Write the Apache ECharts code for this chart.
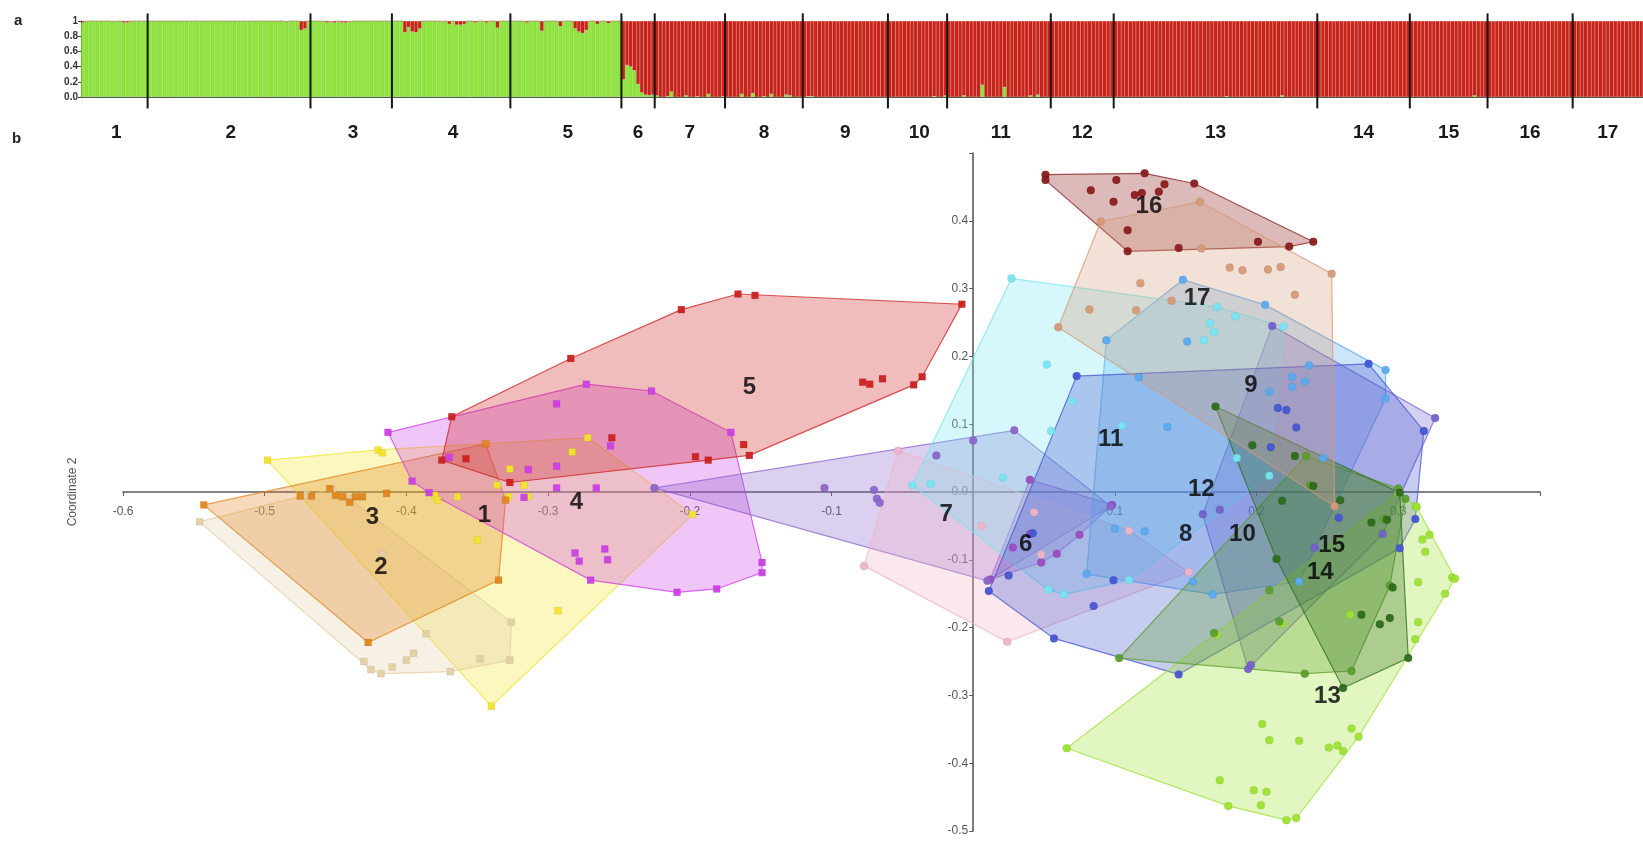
<!DOCTYPE html>
<html>
<head>
<meta charset="utf-8">
<title>STRUCTURE bar plot and PCoA</title>
<script src="https://cdn.jsdelivr.net/npm/echarts@6/dist/echarts.min.js"></script>
<style>
  html, body { margin: 0; padding: 0; background: #fff; }
  #chart { width: 1643px; height: 841px; }
</style>
</head>
<body>
<div id="chart"></div>
<script>
// ---- panel a: share of the green cluster for each individual, one array per population
const green1 = [0.98, 1, 1, 1, 1, 1, 1, 1, 0.99, 1, 1, 0.98, 0.98, 1, 1, 1, 1, 1];
const green2 = [1, 1, 1, 1, 1, 1, 1, 1, 1, 1, 1, 1, 1, 1, 1, 1, 1, 1, 1, 1, 1, 1, 1, 1, 1, 1, 1, 1, 1, 1, 1, 1, 1, 1, 1, 1, 1, 0.99, 1, 1, 1, 0.88, 0.9, 1];
const green3 = [1, 1, 1, 1, 0.98, 0.99, 0.98, 1, 0.98, 0.98, 0.99, 1, 1, 1, 1, 1, 1, 1, 1, 1, 1, 1];
const green4 = [1, 1, 1, 0.85, 0.92, 0.86, 0.85, 0.9, 1, 1, 1, 1, 1, 0.99, 1, 0.96, 1, 0.95, 0.95, 0.96, 1, 1, 0.98, 1, 1, 0.98, 1, 1, 0.91, 1, 1, 1];
const green5 = [1, 1, 1, 1, 0.98, 1, 1, 1, 0.87, 1, 1, 1, 1, 0.93, 1, 1, 1, 0.9, 0.86, 0.84, 0.88, 1, 1, 0.96, 1, 1, 0.97, 1, 1, 1];
const green6 = [0.23, 0.42, 0.4, 0.35, 0.17, 0.06, 0.03, 0.02, 0.03];
const green7 = [0.02, 0, 0, 0.01, 0.07, 0, 0, 0, 0.02, 0, 0, 0.01, 0, 0, 0.04, 0, 0, 0, 0.01];
const green8 = [0, 0, 0, 0, 0.04, 0, 0, 0.05, 0, 0, 0.01, 0, 0.04, 0, 0, 0, 0.03, 0.02, 0, 0, 0];
const green9 = [0, 0.01, 0.01, 0, 0, 0, 0, 0, 0, 0, 0, 0, 0, 0, 0, 0, 0, 0, 0, 0, 0, 0, 0];
const green10 = [0, 0, 0, 0, 0, 0, 0, 0, 0, 0, 0, 0, 0.01, 0, 0, 0.02];
const green11 = [0, 0, 0, 0, 0.02, 0, 0, 0, 0, 0.16, 0, 0, 0, 0, 0, 0.13, 0, 0, 0, 0, 0, 0, 0.02, 0, 0.03, 0, 0, 0];
const green12 = [0, 0, 0, 0, 0, 0, 0, 0, 0, 0, 0, 0, 0, 0, 0, 0, 0];
const green13 = [0, 0, 0, 0, 0, 0, 0, 0, 0, 0, 0, 0, 0, 0, 0, 0, 0, 0, 0, 0, 0, 0, 0, 0, 0, 0, 0, 0, 0, 0, 0.01, 0, 0, 0, 0, 0, 0, 0, 0, 0, 0, 0, 0, 0, 0, 0.02, 0, 0, 0, 0, 0, 0, 0, 0, 0];
const green14 = [0, 0, 0, 0, 0, 0, 0, 0, 0, 0, 0, 0, 0, 0, 0, 0, 0, 0, 0, 0, 0, 0, 0, 0, 0];
const green15 = [0, 0, 0, 0, 0, 0, 0, 0, 0, 0, 0, 0, 0, 0, 0, 0, 0, 0.02, 0, 0, 0];
const green16 = [0, 0, 0, 0, 0, 0, 0, 0, 0, 0, 0, 0, 0, 0, 0, 0, 0, 0, 0, 0, 0, 0, 0];
const green17 = [0, 0, 0, 0, 0, 0, 0, 0, 0, 0, 0, 0, 0, 0, 0, 0, 0, 0, 0];

const popNames = ['1', '2', '3', '4', '5', '6', '7', '8', '9', '10', '11', '12', '13', '14', '15', '16', '17'];

// ---- panel b: coordinate 1 / coordinate 2 of every individual, one array per population
const p1 = [[-0.498, 0.047], [-0.420, 0.062], [-0.417, 0.058], [-0.380, -0.005], [-0.378, -0.012], [-0.364, -0.007], [-0.350, -0.071], [-0.336, 0.010], [-0.327, 0.034], [-0.317, 0.010], [-0.328, -0.007], [-0.314, -0.007], [-0.293, -0.175], [-0.283, 0.059], [-0.272, 0.080], [-0.198, -0.033], [-0.340, -0.316]];
const p2 = [[-0.546, -0.044], [-0.470, -0.004], [-0.452, 0.004], [-0.440, -0.010], [-0.417, -0.091], [-0.430, -0.250], [-0.425, -0.262], [-0.418, -0.268], [-0.410, -0.258], [-0.400, -0.248], [-0.395, -0.238], [-0.386, -0.209], [-0.369, -0.265], [-0.348, -0.246], [-0.327, -0.248], [-0.326, -0.192]];
const p3 = [[-0.543, -0.019], [-0.475, -0.006], [-0.467, -0.006], [-0.454, 0.005], [-0.450, -0.005], [-0.445, -0.007], [-0.440, -0.015], [-0.436, -0.007], [-0.431, -0.007], [-0.414, -0.002], [-0.427, -0.222], [-0.335, -0.130], [-0.344, 0.071], [-0.330, -0.012]];
const p4 = [[-0.413, 0.088], [-0.396, 0.016], [-0.384, -0.001], [-0.370, 0.051], [-0.314, 0.033], [-0.317, -0.008], [-0.294, 0.038], [-0.294, 0.006], [-0.294, 0.130], [-0.273, 0.159], [-0.266, 0.006], [-0.256, 0.068], [-0.227, 0.149], [-0.171, 0.088], [-0.149, -0.104], [-0.149, -0.119], [-0.181, -0.143], [-0.209, -0.148], [-0.270, -0.130], [-0.281, -0.090], [-0.278, -0.102], [-0.260, -0.084], [-0.258, -0.100]];
const p5 = [[-0.166, 0.292], [-0.154, 0.290], [-0.206, 0.269], [-0.284, 0.197], [-0.368, 0.111], [-0.375, 0.047], [-0.358, 0.049], [-0.327, 0.014], [-0.255, 0.080], [-0.196, 0.052], [-0.187, 0.047], [-0.162, 0.070], [-0.158, 0.054], [-0.078, 0.162], [-0.073, 0.159], [-0.064, 0.167], [-0.042, 0.158], [-0.036, 0.170], [-0.008, 0.277]];
const p6 = [[0.040, 0.018], [0.098, -0.019], [0.075, -0.063], [0.059, -0.091], [0.048, -0.104], [0.012, -0.129], [0.028, -0.082], [0.040, -0.062]];
const p7 = [[-0.225, 0.006], [-0.105, 0.006], [-0.070, 0.003], [-0.068, -0.010], [-0.066, -0.016], [-0.026, 0.054], [0.000, 0.076], [0.029, 0.091], [0.097, -0.021], [0.010, -0.131]];
const p8 = [[-0.077, -0.109], [-0.053, 0.061], [0.024, -0.221], [0.043, -0.030], [0.048, -0.092], [0.110, -0.057], [0.152, -0.118], [0.006, -0.050]];
const p9 = [[0.148, 0.313], [0.206, 0.276], [0.094, 0.224], [0.117, 0.169], [0.151, 0.222], [0.225, 0.170], [0.234, 0.163], [0.225, 0.155], [0.209, 0.148], [0.237, 0.187], [0.291, 0.180], [0.291, 0.138], [0.247, 0.050], [0.169, -0.151], [0.155, -0.132], [0.230, -0.132], [0.100, -0.054], [0.121, -0.058], [0.080, -0.121], [0.137, 0.096]];
const p10 = [[0.211, 0.245], [0.326, 0.109], [0.162, -0.033], [0.174, -0.026], [0.241, -0.082], [0.289, -0.062], [0.194, -0.261], [0.300, 0.002], [0.196, -0.255]];
const p11 = [[0.027, 0.315], [-0.043, 0.010], [-0.030, 0.012], [0.021, 0.021], [0.052, 0.188], [0.070, 0.134], [0.055, 0.090], [0.053, -0.144], [0.064, -0.151], [0.110, -0.130], [0.186, 0.050], [0.209, 0.024], [0.172, 0.273], [0.185, 0.259], [0.167, 0.249], [0.170, 0.236], [0.163, 0.224], [0.219, 0.244], [0.105, 0.098]];
const p12 = [[0.073, 0.171], [0.279, 0.189], [0.215, 0.124], [0.221, 0.121], [0.228, 0.095], [0.210, 0.066], [0.099, -0.130], [0.085, -0.168], [0.011, -0.146], [0.025, -0.123], [0.042, -0.061], [0.258, -0.038], [0.312, -0.040], [0.301, -0.083], [0.057, -0.216], [0.145, -0.269], [0.318, 0.090]];
const p13 = [[0.066, -0.378], [0.221, -0.484], [0.228, -0.481], [0.338, -0.126], [0.312, -0.021], [0.300, -0.001], [0.204, -0.342], [0.209, -0.366], [0.230, -0.367], [0.251, -0.377], [0.257, -0.374], [0.261, -0.382], [0.267, -0.349], [0.272, -0.361], [0.174, -0.425], [0.198, -0.440], [0.207, -0.442], [0.180, -0.463], [0.203, -0.462], [0.314, -0.133], [0.333, -0.150], [0.314, -0.192], [0.312, -0.217], [0.317, -0.070], [0.322, -0.063], [0.319, -0.088], [0.340, -0.128], [0.266, -0.181], [0.218, -0.194], [0.172, -0.211], [0.313, -0.022]];
const p14 = [[0.103, -0.245], [0.170, -0.208], [0.216, -0.191], [0.234, -0.268], [0.267, -0.264], [0.235, 0.053], [0.238, 0.010], [0.290, -0.040], [0.294, -0.138], [0.209, -0.145], [0.300, 0.005], [0.305, -0.010]];
const p15 = [[0.171, 0.126], [0.292, -0.041], [0.307, -0.245], [0.261, -0.289], [0.214, -0.099], [0.197, 0.069], [0.227, 0.053], [0.240, 0.009], [0.218, -0.013], [0.259, -0.012], [0.281, -0.045], [0.274, -0.181], [0.287, -0.195], [0.294, -0.186], [0.296, -0.141], [0.301, -0.001]];
const p16 = [[0.051, 0.468], [0.051, 0.460], [0.083, 0.445], [0.101, 0.460], [0.121, 0.470], [0.135, 0.454], [0.131, 0.443], [0.114, 0.438], [0.119, 0.441], [0.099, 0.428], [0.156, 0.455], [0.109, 0.386], [0.109, 0.355], [0.145, 0.360], [0.201, 0.369], [0.223, 0.362], [0.240, 0.369]];
const p17 = [[0.090, 0.399], [0.160, 0.428], [0.161, 0.359], [0.253, 0.322], [0.181, 0.331], [0.190, 0.327], [0.208, 0.328], [0.217, 0.332], [0.227, 0.291], [0.118, 0.308], [0.082, 0.269], [0.115, 0.268], [0.140, 0.282], [0.060, 0.243], [0.255, -0.021]];

// where the population numbers sit in panel b
const pcoaLabelPos = [[-0.345, -0.034], [-0.418, -0.111], [-0.424, -0.037], [-0.280, -0.016], [-0.158, 0.154],
  [0.037, -0.077], [-0.019, -0.033], [0.150, -0.063], [0.196, 0.157], [0.190, -0.063],
  [0.097, 0.078], [0.161, 0.004], [0.250, -0.302], [0.245, -0.118], [0.253, -0.078],
  [0.124, 0.421], [0.158, 0.286]];

// ---- styles
const popColors = ['#f2e42a', '#e4cda4', '#e0861e', '#cc3ee6', '#cc2020',
  '#9a4cc2', '#8c64cc', '#f0b4c8', '#5aaaf0', '#7262cc',
  '#78e4f2', '#4656d2', '#9ee234', '#5c9e2e', '#2d6c1a',
  '#8a1c1c', '#d49a78'];
const FONT = '"Liberation Sans", Arial, sans-serif';
const NARROW = '"Liberation Sans Narrow", "Liberation Sans", Arial, sans-serif';

// PCoA frame (grid 1) — used to put both axes through the origin
const PX_LEFT = 123, PX_TOP = 153, PX_W = 1417, PX_H = 678;
const X_MIN = -0.6, X_MAX = 0.4, Y_MIN = -0.5, Y_MAX = 0.5;

function rgba(hex, a) {
  const n = parseInt(hex.slice(1), 16);
  return 'rgba(' + (n >> 16) + ',' + ((n >> 8) & 255) + ',' + (n & 255) + ',' + a + ')';
}

// convex hull (monotone chain)
function convexHull(pts) {
  const s = pts.slice().sort((a, b) => a[0] - b[0] || a[1] - b[1]);
  const cross = (o, a, b) => (a[0] - o[0]) * (b[1] - o[1]) - (a[1] - o[1]) * (b[0] - o[0]);
  const lower = [], upper = [];
  s.forEach(p => {
    while (lower.length >= 2 && cross(lower[lower.length - 2], lower[lower.length - 1], p) <= 0) lower.pop();
    lower.push(p);
  });
  for (let i = s.length - 1; i >= 0; i--) {
    const p = s[i];
    while (upper.length >= 2 && cross(upper[upper.length - 2], upper[upper.length - 1], p) <= 0) upper.pop();
    upper.push(p);
  }
  return lower.slice(0, -1).concat(upper.slice(0, -1));
}

// ---- build panel a series data
const structPops = [green1, green2, green3, green4, green5, green6, green7, green8, green9,
  green10, green11, green12, green13, green14, green15, green16, green17];
const individuals = [], greenShare = [], redShare = [], popStart = [], popCenter = {};
structPops.forEach((g, p) => {
  popStart.push(individuals.length);
  popCenter[individuals.length + Math.floor(g.length / 2)] = popNames[p];
  g.forEach((v, k) => {
    individuals.push(popNames[p] + '-' + (k + 1));
    greenShare.push(v);
    redShare.push(+(1 - v).toFixed(2));
  });
});
const separators = popStart.slice(1).map(i => [i]);

// ---- build panel b series
const pcoaPops = [p1, p2, p3, p4, p5, p6, p7, p8, p9, p10, p11, p12, p13, p14, p15, p16, p17];
const hullSeries = pcoaPops.map((pts, i) => {
  const hull = convexHull(pts);
  return {
    type: 'custom', xAxisIndex: 1, yAxisIndex: 1, z: 1, silent: true,
    data: [hull[0]],
    renderItem: function (params, api) {
      return {
        type: 'polygon',
        shape: { points: hull.map(p => api.coord(p)) },
        style: { fill: rgba(popColors[i], 0.3), stroke: rgba(popColors[i], 0.75), lineWidth: 1.2 }
      };
    }
  };
});
const pointSeries = pcoaPops.map((pts, i) => ({
  type: 'scatter', xAxisIndex: 1, yAxisIndex: 1, z: 2, silent: true,
  symbol: i < 5 ? 'rect' : 'circle',
  symbolSize: i < 5 ? 7 : 8,
  itemStyle: { color: popColors[i], opacity: 0.95, borderColor: 'rgba(0,0,0,0.12)', borderWidth: 0.5 },
  data: pts
}));

const chart = echarts.init(document.getElementById('chart'));
chart.setOption({
  animation: false,
  backgroundColor: '#fff',
  title: [
    { text: 'a', left: 9, top: 8, textStyle: { fontSize: 15, fontWeight: 'bold', color: '#222', fontFamily: FONT } },
    { text: 'b', left: 7, top: 126, textStyle: { fontSize: 15, fontWeight: 'bold', color: '#222', fontFamily: FONT } }
  ],
  graphic: [{
    type: 'text', x: 73, y: 492, rotation: Math.PI / 2, silent: true,
    style: { text: 'Coordinate 2', fill: '#555', font: '12px ' + FONT, align: 'center', verticalAlign: 'middle' }
  }],
  grid: [
    { left: 81, top: 21, width: 1562, height: 76, outerBoundsMode: 'none' },
    { left: PX_LEFT, top: PX_TOP, width: PX_W, height: PX_H, outerBoundsMode: 'none' }
  ],
  xAxis: [
    {
      type: 'category', gridIndex: 0, data: individuals,
      axisLine: { show: true, lineStyle: { color: '#555', width: 1 } },
      axisTick: { show: false },
      splitLine: { show: false },
      axisLabel: {
        interval: (index) => popCenter[index] !== undefined,
        formatter: (value, index) => popCenter[index] || '',
        margin: 26, fontSize: 19, fontWeight: 'bold', color: '#1a1a1a', fontFamily: NARROW
      }
    },
    {
      type: 'value', gridIndex: 1, min: X_MIN, max: X_MAX, interval: 0.1,
      // move the whole axis (line + labels) up to y = 0
      offset: -PX_H * (0 - Y_MIN) / (Y_MAX - Y_MIN),
      axisLine: { onZero: false, lineStyle: { color: '#5a5a5a', width: 1.6 } },
      axisTick: { show: true, length: 4, lineStyle: { color: '#5a5a5a' } },
      splitLine: { show: false },
      axisLabel: {
        formatter: (v) => (Math.abs(v) < 1e-9 || v > 0.35) ? '' : v.toFixed(1),
        fontSize: 12, color: '#555', margin: 14, fontFamily: NARROW
      }
    }
  ],
  yAxis: [
    {
      type: 'value', gridIndex: 0, min: 0, max: 1, interval: 0.2,
      axisLine: { show: true, lineStyle: { color: '#444' } },
      axisTick: { show: true, length: 3, lineStyle: { color: '#444' } },
      splitLine: { show: false },
      axisLabel: {
        formatter: (v) => v === 1 ? '1' : v.toFixed(1),
        fontSize: 10, fontWeight: 'bold', color: '#333', margin: 3, fontFamily: NARROW
      }
    },
    {
      type: 'value', gridIndex: 1, min: Y_MIN, max: Y_MAX, interval: 0.1,
      // move the whole axis right to x = 0
      offset: -PX_W * (0 - X_MIN) / (X_MAX - X_MIN),
      axisLine: { onZero: false, lineStyle: { color: '#5a5a5a', width: 1.6 } },
      axisTick: { show: true, length: 4, lineStyle: { color: '#5a5a5a' } },
      splitLine: { show: false },
      axisLabel: {
        formatter: (v) => v > 0.45 ? '' : v.toFixed(1),
        fontSize: 12, color: '#555', margin: 5, fontFamily: NARROW
      }
    }
  ],
  series: [
    {
      name: 'green cluster', type: 'bar', xAxisIndex: 0, yAxisIndex: 0, stack: 'q',
      barCategoryGap: '0%', silent: true,
      itemStyle: { color: '#8ee836', borderColor: 'rgba(70,140,20,0.35)', borderWidth: 0.5 },
      data: greenShare
    },
    {
      name: 'red cluster', type: 'bar', xAxisIndex: 0, yAxisIndex: 0, stack: 'q',
      barCategoryGap: '0%', silent: true,
      itemStyle: { color: '#cc2318', borderColor: 'rgba(130,10,10,0.3)', borderWidth: 0.5 },
      data: redShare
    },
    {
      type: 'custom', xAxisIndex: 0, yAxisIndex: 0, z: 5, silent: true, clip: false,
      data: separators,
      encode: { x: 0 },
      renderItem: function (params, api) {
        const band = api.size([1, 0])[0];
        const top = api.coord([api.value(0), 1.1]);
        const bottom = api.coord([api.value(0), -0.15]);
        const x = top[0] - band / 2;
        return { type: 'line', shape: { x1: x, y1: top[1], x2: x, y2: bottom[1] }, style: { stroke: '#151515', lineWidth: 2 } };
      }
    }
  ].concat(hullSeries, pointSeries, [{
    type: 'scatter', xAxisIndex: 1, yAxisIndex: 1, z: 3, silent: true,
    symbolSize: 1, itemStyle: { color: 'rgba(0,0,0,0)' },
    label: { show: true, position: 'inside', formatter: '{b}', fontSize: 24, fontWeight: 'bold', color: '#000', textBorderWidth: 0, fontFamily: FONT },
    data: pcoaLabelPos.map((p, i) => ({ name: popNames[i], value: p }))
  }])
});
</script>
</body>
</html>
